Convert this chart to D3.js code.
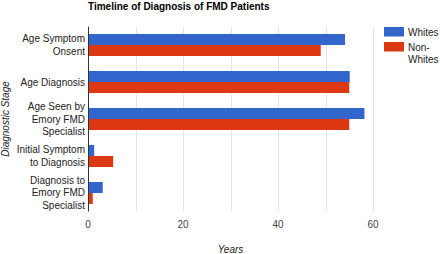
<!DOCTYPE html>
<html>
<head>
<meta charset="utf-8">
<script src="https://cdn.jsdelivr.net/npm/d3@7"></script>
<style>
  body { margin: 0; background: #fff; }
  svg text { font-family: Arial, "Liberation Sans", sans-serif; }
</style>
</head>
<body>
<svg id="chart" width="440" height="254"></svg>
<script>
// categories (multi-line labels split with \n)
const categories = [
  "Age Symptom\nOnsent",
  "Age Diagnosis",
  "Age Seen by\nEmory FMD\nSpecialist",
  "Initial Symptom\nto Diagnosis",
  "Diagnosis to\nEmory FMD\nSpecialist"
]
const seriesNames = ["Whites", "Non-Whites"]
const whites = [54.1, 55.1, 58.2, 1.3, 3.1]
const nonWhites = [49.0, 55.0, 55.0, 5.3, 1.0]
const xTicks = [0, 20, 40, 60]
const gridTicks = [10, 20, 30, 40, 50, 60]
const colors = ["#3366cc", "#dc3912"]

const svg = d3.select('#chart')
const margin = {top: 26.5, left: 88, right: 67, bottom: 42.5}
const W = 440, H = 254

const x = d3.scaleLinear().domain([0, 60]).range([margin.left, W - margin.right])
const y = d3.scaleBand()
    .domain(categories)
    .range([margin.top, H - margin.bottom])
    .paddingInner(0.405)
    .paddingOuter(0.2027)
const ySub = d3.scaleBand().domain(seriesNames).range([0, y.bandwidth()])

// title
svg.append('text')
    .attr('x', margin.left)
    .attr('y', 9.5)
    .attr('font-size', 10)
    .attr('font-weight', 'bold')
    .attr('fill', '#000')
    .text('Timeline of Diagnosis of FMD Patients')

// gridlines
svg.append('g').selectAll('line')
    .data(gridTicks)
    .join('line')
    .attr('x1', d => Math.round(x(d)) + 0.5)
    .attr('x2', d => Math.round(x(d)) + 0.5)
    .attr('y1', margin.top)
    .attr('y2', H - margin.bottom)
    .attr('stroke', '#e4e4e4')

// bars
const rows = categories.map((c, i) => ({cat: c, values: [whites[i], nonWhites[i]]}))
const groups = svg.append('g').selectAll('g')
    .data(rows)
    .join('g')
    .attr('transform', d => `translate(0,${y(d.cat)})`)
groups.selectAll('rect')
    .data(d => d.values.map((v, j) => ({name: seriesNames[j], value: v, j: j})))
    .join('rect')
    .attr('x', x(0))
    .attr('y', d => ySub(d.name))
    .attr('width', d => x(d.value) - x(0))
    .attr('height', ySub.bandwidth())
    .attr('fill', d => colors[d.j])

// zero axis line
svg.append('line')
    .attr('x1', Math.round(x(0)) + 0.5)
    .attr('x2', Math.round(x(0)) + 0.5)
    .attr('y1', margin.top)
    .attr('y2', H - margin.bottom)
    .attr('stroke', '#333')

// x tick labels
svg.append('g').selectAll('text')
    .data(xTicks)
    .join('text')
    .attr('x', d => x(d))
    .attr('y', 227.5)
    .attr('text-anchor', 'middle')
    .attr('font-size', 10)
    .attr('fill', '#444')
    .text(d => d)

// category labels
const lineH = 12.8
svg.append('g').selectAll('text')
    .data(categories)
    .join('text')
    .attr('text-anchor', 'end')
    .attr('font-size', 10)
    .attr('fill', '#222')
    .each(function (d) {
        const lines = d.split('\n')
        const cy = y(d) + y.bandwidth() / 2
        const t = d3.select(this)
        lines.forEach((l, i) => {
            t.append('tspan')
                .attr('x', margin.left - 3)
                .attr('y', cy + (i - (lines.length - 1) / 2) * lineH + 3.5)
                .text(l)
        })
    })

// axis titles
svg.append('text')
    .attr('x', (x(0) + x(60)) / 2)
    .attr('y', 252.5)
    .attr('text-anchor', 'middle')
    .attr('font-size', 10)
    .attr('font-style', 'italic')
    .attr('fill', '#222')
    .text('Years')

svg.append('text')
    .attr('transform', `translate(9,${(margin.top + H - margin.bottom) / 2}) rotate(-90)`)
    .attr('text-anchor', 'middle')
    .attr('font-size', 10)
    .attr('font-style', 'italic')
    .attr('fill', '#222')
    .text('Diagnostic Stage')

// legend
const legend = svg.append('g').attr('transform', 'translate(384,27)')
const legendLabels = [["Whites"], ["Non-", "Whites"]]
seriesNames.forEach((s, i) => {
    const g = legend.append('g').attr('transform', `translate(0,${i * 15})`)
    g.append('rect')
        .attr('width', 20)
        .attr('height', 9.5)
        .attr('fill', colors[i])
    const t = g.append('text').attr('font-size', 10).attr('fill', '#222')
    legendLabels[i].forEach((l, k) => {
        t.append('tspan')
            .attr('x', 24)
            .attr('y', 8.5 + k * 12.5)
            .text(l)
    })
})
</script>
</body>
</html>
